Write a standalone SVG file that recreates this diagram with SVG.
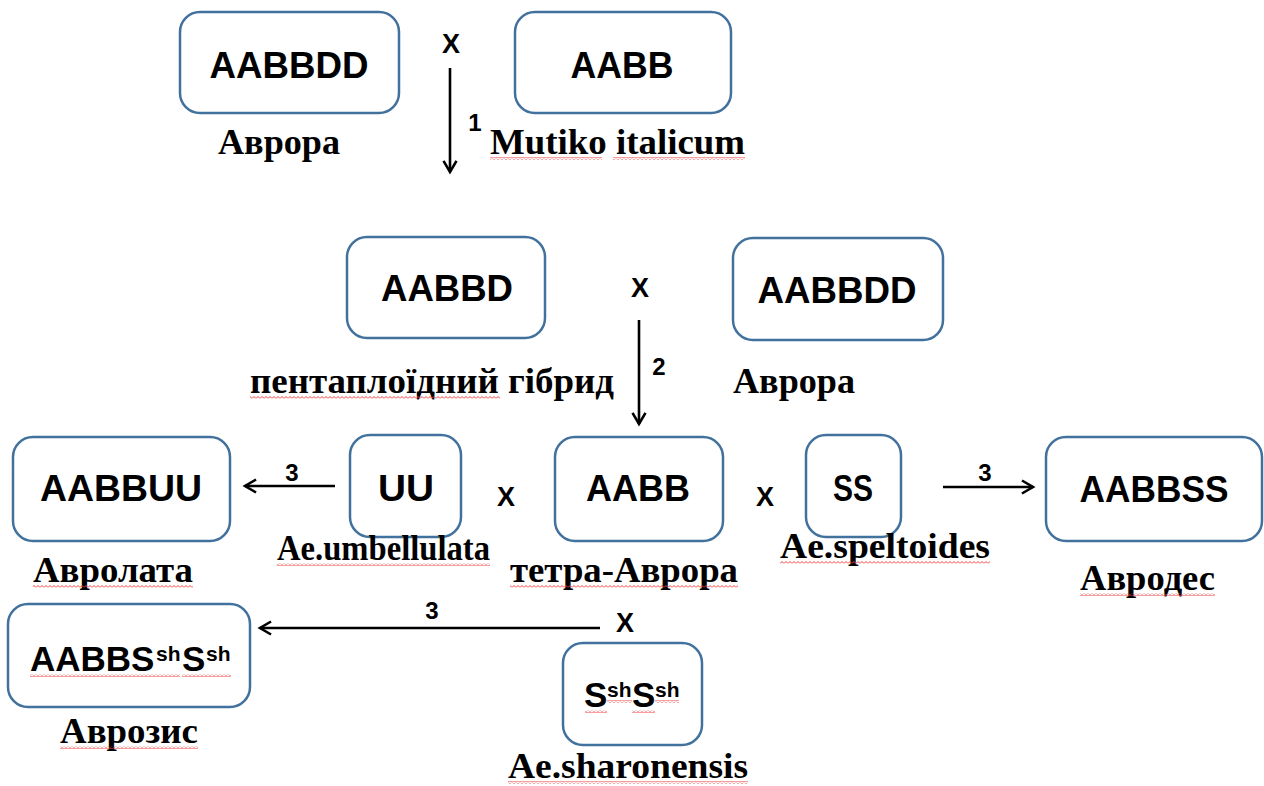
<svg xmlns="http://www.w3.org/2000/svg" width="1264" height="786" viewBox="0 0 1264 786">
<style>
.box{fill:#fff;stroke:#41719C;stroke-width:2.5}
.bt{font-family:"Liberation Sans",Arial,sans-serif;font-weight:bold;font-size:37px;fill:#000;text-anchor:middle}
.bs{font-family:"Liberation Sans",Arial,sans-serif;font-weight:bold;font-size:35px;fill:#000}
.sup{font-size:21px}
.lb{font-family:"Liberation Serif","Times New Roman",serif;font-weight:bold;font-size:36px;fill:#000}
.x{font-family:"Liberation Sans",Arial,sans-serif;font-weight:bold;font-size:27px;fill:#000;text-anchor:middle}
.num{font-family:"Liberation Sans",Arial,sans-serif;font-weight:bold;font-size:24px;fill:#000;text-anchor:middle}
.ln{stroke:#000;stroke-width:2.6;fill:none;marker-end:url(#arr)}
.wv{fill:url(#wave)}
</style>
<defs>
<marker id="arr" viewBox="0 0 12 12" refX="10" refY="6" markerWidth="6" markerHeight="6" orient="auto" markerUnits="strokeWidth">
<path d="M1.5,1 L10,6 L1.5,11" fill="none" stroke="#000" stroke-width="2"/>
</marker>
<pattern id="wave" width="4" height="3" patternUnits="userSpaceOnUse">
<path d="M0,2.5 L2,0.5 L4,2.5" fill="none" stroke="#f03c3c" stroke-width="1"/>
</pattern>
</defs>

<g id="connectors">
<line class="ln" x1="450" y1="68" x2="450" y2="172"/>
<line class="ln" x1="639" y1="320" x2="639" y2="424"/>
<line class="ln" x1="335" y1="486" x2="245" y2="486"/>
<line class="ln" x1="943" y1="487" x2="1033" y2="487"/>
<line class="ln" x1="600" y1="628" x2="260" y2="628"/>
<text class="num" x="475" y="131">1</text>
<text class="num" x="659" y="375">2</text>
<text class="num" x="292" y="481">3</text>
<text class="num" x="985" y="481">3</text>
<text class="num" x="432" y="619">3</text>
</g>

<g id="crosses">
<text class="x" x="451" y="53">X</text>
<text class="x" x="640" y="297">X</text>
<text class="x" x="506" y="506">X</text>
<text class="x" x="765" y="506">X</text>
<text class="x" x="625" y="632">X</text>
</g>

<g id="n1">
<rect class="box" x="180" y="12" width="219" height="101" rx="20"/>
<text class="bt" x="289" y="78" textLength="159" lengthAdjust="spacingAndGlyphs">AABBDD</text>
<text class="lb" x="218" y="154" textLength="122" lengthAdjust="spacingAndGlyphs">Аврора</text>
</g>

<g id="n2">
<rect class="box" x="515" y="12" width="216" height="101" rx="20"/>
<text class="bt" x="622" y="78" textLength="103" lengthAdjust="spacingAndGlyphs">AABB</text>
<text class="lb" x="490" y="154" textLength="255" lengthAdjust="spacingAndGlyphs">Mutiko italicum</text>
<rect class="wv" x="490" y="157" width="112" height="3"/>
<rect class="wv" x="613" y="157" width="132" height="3"/>
</g>

<g id="n3">
<rect class="box" x="347" y="237" width="198" height="101" rx="20"/>
<text class="bt" x="447" y="301" textLength="132" lengthAdjust="spacingAndGlyphs">AABBD</text>
<text class="lb" x="250" y="393" textLength="364" lengthAdjust="spacingAndGlyphs">пентаплоїдний гібрид</text>
<rect class="wv" x="250" y="396" width="250" height="3"/>
</g>

<g id="n4">
<rect class="box" x="733" y="238" width="210" height="102" rx="20"/>
<text class="bt" x="837" y="303" textLength="159" lengthAdjust="spacingAndGlyphs">AABBDD</text>
<text class="lb" x="733" y="393" textLength="122" lengthAdjust="spacingAndGlyphs">Аврора</text>
</g>

<g id="n5">
<rect class="box" x="13" y="437" width="217" height="104" rx="20"/>
<text class="bt" x="121" y="501" textLength="162" lengthAdjust="spacingAndGlyphs">AABBUU</text>
<text class="lb" x="33" y="582" textLength="160" lengthAdjust="spacingAndGlyphs">Авролата</text>
<rect class="wv" x="33" y="585" width="160" height="3"/>
</g>

<g id="n6">
<rect class="box" x="350" y="435" width="111" height="102" rx="20"/>
<text class="bt" x="406" y="501" textLength="56" lengthAdjust="spacingAndGlyphs">UU</text>
<text class="lb" x="277" y="560" textLength="213" lengthAdjust="spacingAndGlyphs">Ae.umbellulata</text>
<rect class="wv" x="277" y="563" width="213" height="3"/>
</g>

<g id="n7">
<rect class="box" x="555" y="437" width="168" height="104" rx="20"/>
<text class="bt" x="638" y="501" textLength="104" lengthAdjust="spacingAndGlyphs">AABB</text>
<text class="lb" x="510" y="582" textLength="228" lengthAdjust="spacingAndGlyphs">тетра-Аврора</text>
<rect class="wv" x="510" y="585" width="228" height="3"/>
</g>

<g id="n8">
<rect class="box" x="806" y="435" width="95" height="102" rx="20"/>
<text class="bt" x="853" y="501" textLength="40" lengthAdjust="spacingAndGlyphs">SS</text>
<text class="lb" x="780" y="558" textLength="210" lengthAdjust="spacingAndGlyphs">Ae.speltoides</text>
<rect class="wv" x="780" y="561" width="210" height="3"/>
</g>

<g id="n9">
<rect class="box" x="1046" y="437" width="216" height="104" rx="20"/>
<text class="bt" x="1154" y="502" textLength="149" lengthAdjust="spacingAndGlyphs">AABBSS</text>
<text class="lb" x="1080" y="590" textLength="135" lengthAdjust="spacingAndGlyphs">Авродес</text>
<rect class="wv" x="1080" y="593" width="135" height="3"/>
</g>

<g id="n10">
<rect class="box" x="8" y="604" width="242" height="103" rx="20"/>
<text class="bs" x="30" y="671">AABBS<tspan class="sup" x="156" y="661">sh</tspan><tspan x="182" y="671">S</tspan><tspan class="sup" x="206" y="661">sh</tspan></text>
<rect class="wv" x="30" y="674" width="150" height="3"/>
<rect class="wv" x="182" y="674" width="49" height="3"/>
<text class="lb" x="60" y="743" textLength="138" lengthAdjust="spacingAndGlyphs">Аврозис</text>
<rect class="wv" x="60" y="746" width="138" height="3"/>
</g>

<g id="n11">
<rect class="box" x="563" y="643" width="139" height="102" rx="20"/>
<text class="bs" x="584" y="707">S<tspan class="sup" x="607" y="697">sh</tspan><tspan x="632" y="707">S</tspan><tspan class="sup" x="655" y="697">sh</tspan></text>
<rect class="wv" x="585" y="710" width="22" height="3"/>
<rect class="wv" x="607" y="700" width="25" height="3"/>
<rect class="wv" x="632" y="710" width="23" height="3"/>
<rect class="wv" x="655" y="700" width="24" height="3"/>
<text class="lb" x="508" y="778" textLength="240" lengthAdjust="spacingAndGlyphs">Ae.sharonensis</text>
<rect class="wv" x="508" y="781" width="240" height="3"/>
</g>
</svg>
